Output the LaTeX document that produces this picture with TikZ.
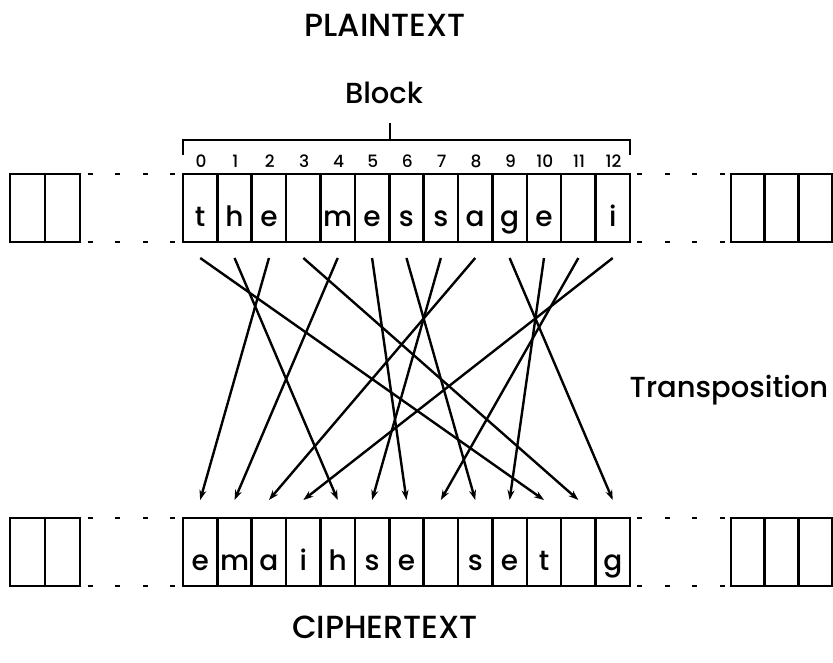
\documentclass[tikz,border=0pt]{standalone}
\usepackage{fontspec}
\setmainfont{Poppins}[UprightFont={* Medium}]
\usetikzlibrary{arrows.meta}
\begin{document}
\begin{tikzpicture}[x=1pt,y=-1pt,
  line width=2.6pt,
  cell/.style={draw, line width=2.6pt, minimum width=34.38pt, minimum height=68pt,
    inner sep=0pt, outer sep=0pt, anchor=north west,
    text height=37pt, text depth=0pt, font=\fontsize{28}{28}\selectfont},
  sidecell/.style={cell, minimum width=#1},
  idx/.style={anchor=base, inner sep=0pt, font=\fontsize{17}{17}\selectfont},
  title/.style={anchor=base, inner sep=0pt, font=\fontsize{29}{29}\selectfont},
  bigtitle/.style={title, font=\fontsize{32}{32}\selectfont},
  gap/.style={line width=2.6pt, dash pattern=on 5pt off 22.5pt, dash phase=20pt},
  move/.style={line width=2.4pt, -{Stealth[length=10pt,width=7pt]}},
]
\useasboundingbox (0,0) rectangle (833,663);

% titles
\node[bigtitle] (plain) at (385,37) {PLAINTEXT};
\node[title] (blk) at (384,104) {Block};
\node[title] (trans) at (729,397) {Transposition};
\node[bigtitle] (ciph) at (385,638) {CIPHERTEXT};

% plaintext block and ciphertext block
\foreach \ch [count=\k from 0] in {t,h,e,{},m,e,s,s,a,g,e,{},i}
  \node[cell] (p\k) at ({183+34.38*\k},174) {\ch};
\foreach \ch [count=\k from 0] in {e,m,a,i,h,s,e,{},s,e,t,{},g}
  \node[cell] (c\k) at ({183+34.38*\k},518) {\ch};

% position numbers
\foreach \k in {0,...,12}
  \node[idx] (n\k) at ({201+34.38*\k},168) {\k};

% bracket marking one block
\coordinate (bl) at (183,155);
\coordinate (br) at (630,155);
\coordinate (bm) at (390,123);
\draw (bl) -- (183,140) -- (630,140) -- (br);
\draw (bm) -- (390,140);

% neighbouring blocks on either side
\foreach \r/\y in {p/174,c/518} {
  \node[sidecell=35pt] (\r L0) at (10,\y) {};
  \node[sidecell=35pt] (\r L1) at (45,\y) {};
  \node[sidecell=33.7pt] (\r R0) at (731,\y) {};
  \node[sidecell=33.7pt] (\r R1) at (764.7,\y) {};
  \node[sidecell=33.7pt] (\r R2) at (798.4,\y) {};
  \draw[gap] (\r L1.north east) -- (\r 0.north west);
  \draw[gap] (\r L1.south east) -- (\r 0.south west);
  \draw[gap] (\r 12.north east) -- (\r R0.north west);
  \draw[gap] (\r 12.south east) -- (\r R0.south west);
}

% transposition: plaintext position -> ciphertext position
\foreach \k in {0,...,12} {
  \coordinate (s\k) at ([yshift=-16pt]p\k.south);
  \coordinate (t\k) at ([yshift=18pt]c\k.north);
}
\foreach \a/\b in {0/10,1/4,2/0,3/11,4/1,5/6,6/8,7/5,8/2,9/12,10/9,11/7,12/3}
  \draw[move] (s\a) -- (t\b);
\end{tikzpicture}
\end{document}
